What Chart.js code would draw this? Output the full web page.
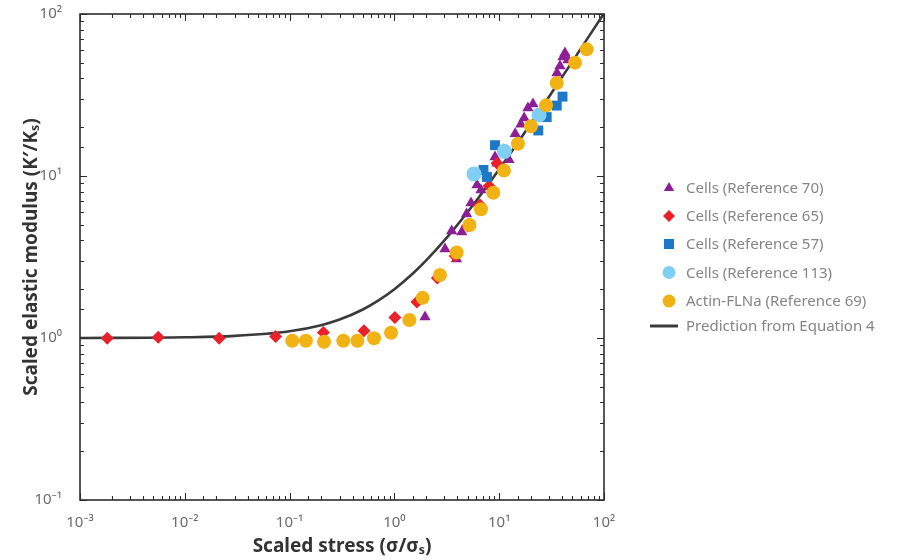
<!DOCTYPE html>
<html><head><meta charset="utf-8">
<script src="https://cdn.jsdelivr.net/npm/chart.js@4.4.0/dist/chart.umd.min.js"></script>
<style>html,body{margin:0;padding:0;background:#fff;}#wrap{width:920px;height:560px;}</style>
</head><body><div id="wrap"><canvas id="c" width="920" height="560"></canvas></div>
<script>
// ---- Data ----
const xDecades = [-3, -2, -1, 0, 1, 2];
const xTickLabels = ['10⁻³', '10⁻²', '10⁻¹', '10⁰', '10¹', '10²'];
const yDecades = [-1, 0, 1, 2];
const yTickLabels = ['10⁻¹', '10⁰', '10¹', '10²'];

const seriesNames = ['Cells (Reference 70)', 'Cells (Reference 65)', 'Cells (Reference 57)', 'Cells (Reference 113)', 'Actin-FLNa (Reference 69)', 'Prediction from Equation 4'];

const ref70X = [1.96, 3.04, 3.52, 3.91, 4.39, 4.88, 5.38, 6.14, 6.70, 7.65, 9.12, 9.53, 10.9, 12.4, 14.2, 16.1, 17.3, 18.8, 21.0, 35.6, 38.0, 40.6, 42.4, 45.3];
const ref70Y = [1.35, 3.54, 4.58, 3.07, 4.51, 5.83, 6.81, 8.80, 8.20, 10.0, 13.1, 12.0, 14.5, 12.6, 18.2, 20.9, 22.8, 26.3, 27.8, 43.2, 47.8, 54.3, 57.4, 52.0];

const ref65X = [0.00182, 0.00558, 0.0213, 0.0736, 0.21, 0.513, 1.01, 1.64, 2.57, 3.79, 4.99, 6.56, 8.0, 9.53];
const ref65Y = [0.998, 1.01, 0.998, 1.02, 1.08, 1.11, 1.34, 1.67, 2.35, 3.21, 4.91, 6.62, 8.67, 12.0];

const ref57X = [7.08, 7.65, 9.12, 23.6, 28.4, 35.4, 40.2];
const ref57Y = [10.9, 9.86, 15.5, 19.1, 23.1, 27.2, 30.9];

const ref113X = [5.75, 11.2, 24.0];
const ref113Y = [10.3, 14.2, 23.8];

const ref69X = [0.106, 0.143, 0.213, 0.325, 0.443, 0.638, 0.929, 1.39, 1.86, 2.72, 3.93, 5.21, 6.70, 8.79, 11.1, 15.1, 20.1, 28.0, 35.4, 52.9, 68.4];
const ref69Y = [0.962, 0.962, 0.949, 0.962, 0.962, 0.996, 1.078, 1.29, 1.77, 2.45, 3.37, 4.98, 6.23, 7.88, 10.8, 15.8, 20.3, 27.3, 37.5, 50.1, 60.5];

const eqX = [0.001, 0.01, 0.03, 0.1, 0.2, 0.3, 0.5, 0.7, 1, 1.5, 2, 3, 5, 7, 10, 20, 30, 50, 100];
const eqY = [1.0, 1.01, 1.03, 1.1, 1.2, 1.3, 1.5, 1.7, 2.0, 2.5, 3.0, 4.0, 6.0, 8.0, 11, 21, 31, 51, 101];

// ---- Helpers ----
const pts = (xs, ys) => xs.map((x, i) => ({x: x, y: ys[i]}));
const FONT = "'Noto Sans', 'Open Sans', sans-serif";
function decadeOf(v) { const e = Math.log10(v); const r = Math.round(e); return Math.abs(e - r) < 1e-6 ? r : null; }
function labelFor(v, decades, labels) { const d = decadeOf(v); if (d === null) return ''; const i = decades.indexOf(d); return i >= 0 ? labels[i] : ''; }

const colors = {purple: '#8C1F96', red: '#E8212B', blue: '#1E78C8', light: '#7FCFF2', yellow: '#F1B213', line: '#3a3a3a'};

function drawMarker(ctx, style, x, y, r, color) {
  ctx.save();
  ctx.fillStyle = color;
  ctx.beginPath();
  if (style === 'triangle') {
    ctx.moveTo(x, y - r); ctx.lineTo(x + r * 0.866, y + r * 0.5); ctx.lineTo(x - r * 0.866, y + r * 0.5); ctx.closePath();
  } else if (style === 'rectRot') {
    ctx.moveTo(x, y - r); ctx.lineTo(x + r, y); ctx.lineTo(x, y + r); ctx.lineTo(x - r, y); ctx.closePath();
  } else if (style === 'rect') {
    const s = r * 0.72; ctx.rect(x - s, y - s, 2 * s, 2 * s);
  } else if (style === 'circle') {
    ctx.arc(x, y, r, 0, Math.PI * 2);
  }
  ctx.fill();
  ctx.restore();
}

const frameTicks = {
  id: 'frameTicks',
  afterDatasetsDraw(chart) {
    const {ctx, chartArea: a, scales: {x, y}} = chart;
    ctx.save();
    ctx.strokeStyle = '#2e2e2e';
    ctx.lineWidth = 1.1;
    ctx.beginPath();
    x.ticks.forEach(t => {
      const px = Math.round(x.getPixelForValue(t.value)) + 0.5;
      if (px < a.left - 1 || px > a.right + 1) return;
      const len = decadeOf(t.value) !== null ? 7 : 4;
      ctx.moveTo(px, a.bottom); ctx.lineTo(px, a.bottom - len);
      ctx.moveTo(px, a.top); ctx.lineTo(px, a.top + len);
    });
    y.ticks.forEach(t => {
      const py = Math.round(y.getPixelForValue(t.value)) + 0.5;
      if (py < a.top - 1 || py > a.bottom + 1) return;
      const len = decadeOf(t.value) !== null ? 7 : 4;
      ctx.moveTo(a.left, py); ctx.lineTo(a.left + len, py);
      ctx.moveTo(a.right, py); ctx.lineTo(a.right - len, py);
    });
    ctx.stroke();
    ctx.lineWidth = 1.6;
    ctx.strokeRect(a.left, a.top, a.right - a.left, a.bottom - a.top);
    ctx.restore();
  }
};

const sideLegend = {
  id: 'sideLegend',
  afterDraw(chart) {
    const {ctx, chartArea: a} = chart;
    const rows = [188, 216, 244, 272.5, 301, 326];
    ctx.save();
    ctx.font = '15px ' + FONT;
    ctx.textBaseline = 'middle';
    chart.data.datasets.forEach((ds, i) => {
      const yy = rows[i];
      const mx = a.right + 65;
      if (ds.showLine) {
        ctx.save(); ctx.strokeStyle = ds.borderColor; ctx.lineWidth = 3;
        ctx.beginPath(); ctx.moveTo(a.right + 46, yy); ctx.lineTo(a.right + 74, yy); ctx.stroke(); ctx.restore();
      } else {
        drawMarker(ctx, ds.pointStyle, mx, yy, ds.legendR, ds.backgroundColor);
      }
      ctx.fillStyle = '#858585';
      ctx.fillText(ds.label, a.right + 82, yy + 1);
    });
    ctx.restore();
  }
};

const datasets = [
  {label: seriesNames[0], data: pts(ref70X, ref70Y), pointStyle: 'triangle', pointRadius: 6.5, backgroundColor: colors.purple, borderColor: colors.purple, borderWidth: 0, showLine: false, order: 4, legendR: 6},
  {label: seriesNames[1], data: pts(ref65X, ref65Y), pointStyle: 'rectRot', pointRadius: 6.5, backgroundColor: colors.red, borderColor: colors.red, borderWidth: 0, showLine: false, order: 3, legendR: 6},
  {label: seriesNames[2], data: pts(ref57X, ref57Y), pointStyle: 'rect', pointRadius: 7, backgroundColor: colors.blue, borderColor: colors.blue, borderWidth: 0, showLine: false, order: 2, legendR: 7},
  {label: seriesNames[3], data: pts(ref113X, ref113Y), pointStyle: 'circle', pointRadius: 7.5, backgroundColor: colors.light, borderColor: colors.light, borderWidth: 0, showLine: false, order: 1, legendR: 6.5},
  {label: seriesNames[4], data: pts(ref69X, ref69Y), pointStyle: 'circle', pointRadius: 7, backgroundColor: colors.yellow, borderColor: colors.yellow, borderWidth: 0, showLine: false, order: 0, legendR: 6.5},
  {label: seriesNames[5], data: pts(eqX, eqY), type: 'line', showLine: true, pointRadius: 0, borderColor: colors.line, backgroundColor: colors.line, borderWidth: 2.6, cubicInterpolationMode: 'monotone', fill: false, order: 5}
];

new Chart(document.getElementById('c'), {
  type: 'scatter',
  data: {datasets: datasets},
  options: {
    responsive: false,
    animation: false,
    devicePixelRatio: 1,
    layout: {padding: {top: 14, right: 316, left: 0, bottom: 0}},
    plugins: {legend: {display: false}, tooltip: {enabled: false}},
    scales: {
      x: {
        type: 'logarithmic', min: 0.001, max: 100,
        grid: {display: false}, border: {display: false},
        ticks: {autoSkip: false, maxRotation: 0, minRotation: 0, padding: 6, color: '#6b6b6b', font: {family: FONT, size: 15},
          callback: (v) => labelFor(v, xDecades, xTickLabels)},
        title: {display: true, text: 'Scaled stress (σ/σₛ)', color: '#333', font: {family: FONT, size: 19, weight: 'bold'}, padding: {top: 0, bottom: 2}},
        afterFit: (s) => { s.height = 60; s.paddingLeft = 0; s.paddingRight = 0; }
      },
      y: {
        type: 'logarithmic', min: 0.1, max: 100,
        grid: {display: false}, border: {display: false},
        ticks: {autoSkip: false, padding: 10, color: '#6b6b6b', font: {family: FONT, size: 15},
          callback: (v) => labelFor(v, yDecades, yTickLabels)},
        title: {display: true, text: 'Scaled elastic modulus (K′/Kₛ)', color: '#333', font: {family: FONT, size: 19, weight: 'bold'}, padding: {top: 20, bottom: 0}},
        afterFit: (s) => { s.width = 80; s.paddingTop = 0; s.paddingBottom = 0; }
      }
    }
  },
  plugins: [frameTicks, sideLegend]
});
</script></body></html>
